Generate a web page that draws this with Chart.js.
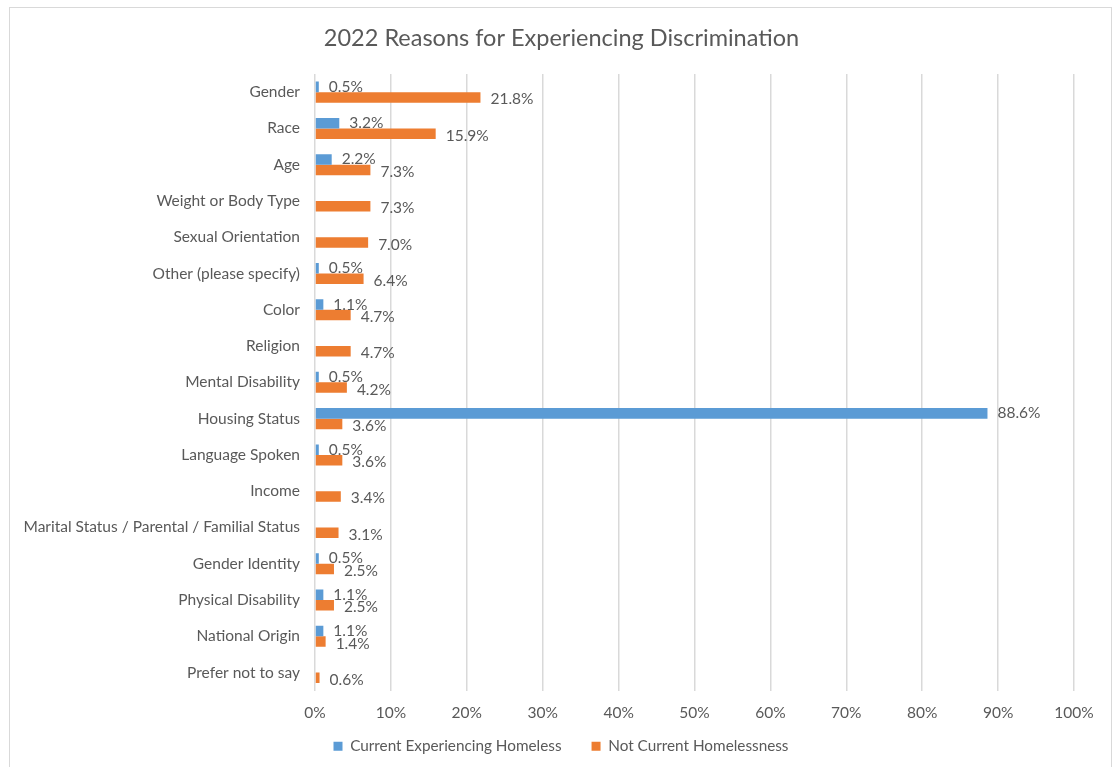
<!DOCTYPE html>
<html>
<head>
<meta charset="utf-8">
<script src="https://cdn.jsdelivr.net/npm/chart.js@4"></script>
<style>
  html, body { margin: 0; padding: 0; background: #fff; }
  #frame { position: absolute; left: 9px; top: 7px; width: 1103px; height: 765px; border: 1px solid #d9d9d9; box-sizing: border-box; }
  #wrap { position: absolute; left: 0; top: 0; width: 1101px; height: 763px; }
</style>
</head>
<body>
<div id="frame"><div id="wrap"><canvas id="c"></canvas></div></div>
<script>
const categories = [
  "Gender", "Race", "Age", "Weight or Body Type", "Sexual Orientation",
  "Other (please specify)", "Color", "Religion", "Mental Disability",
  "Housing Status", "Language Spoken", "Income",
  "Marital Status / Parental / Familial Status", "Gender Identity",
  "Physical Disability", "National Origin", "Prefer not to say"
];
const currentHomeless = [0.5, 3.2, 2.2, null, null, 0.5, 1.1, null, 0.5, 88.6, 0.5, null, null, 0.5, 1.1, 1.1, null];
const notCurrentHomeless = [21.8, 15.9, 7.3, 7.3, 7.0, 6.4, 4.7, 4.7, 4.2, 3.6, 3.6, 3.4, 3.1, 2.5, 2.5, 1.4, 0.6];
const seriesNames = ["Current Experiencing Homeless", "Not Current Homelessness"];
const xTicks = [0, 10, 20, 30, 40, 50, 60, 70, 80, 90, 100];
const chartTitle = "2022 Reasons for Experiencing Discrimination";

const FONT = "Lato, 'Open Sans', sans-serif";
const TXT = "#595959";

const labelPlugin = {
  id: "barLabels",
  afterDatasetsDraw(chart) {
    const ctx = chart.ctx;
    ctx.save();
    ctx.font = "15.5px " + FONT;
    ctx.fillStyle = TXT;
    ctx.textBaseline = "middle";
    ctx.textAlign = "left";
    chart.data.datasets.forEach((ds, di) => {
      const meta = chart.getDatasetMeta(di);
      meta.data.forEach((el, i) => {
        const v = ds.data[i];
        if (v === null || v === undefined) return;
        ctx.fillText(v.toFixed(1) + "%", el.x + 10, el.y + (di === 0 ? 0 : 2));
      });
    });
    ctx.restore();
  }
};

const titlePlugin = {
  id: "centeredTitle",
  afterDraw(chart) {
    const ctx = chart.ctx;
    ctx.save();
    ctx.font = "23.5px " + FONT;
    ctx.fillStyle = TXT;
    ctx.textAlign = "center";
    ctx.textBaseline = "middle";
    ctx.fillText(chartTitle, chart.width / 2 + 1, 30);
    ctx.restore();
  }
};

new Chart(document.getElementById("c"), {
  type: "bar",
  data: {
    labels: categories,
    datasets: [
      { label: seriesNames[0], data: currentHomeless, backgroundColor: "#5B9BD5", categoryPercentage: 0.58, barPercentage: 1.0 },
      { label: seriesNames[1], data: notCurrentHomeless, backgroundColor: "#ED7D31", categoryPercentage: 0.58, barPercentage: 1.0 }
    ]
  },
  options: {
    indexAxis: "y",
    responsive: true,
    maintainAspectRatio: false,
    animation: false,
    layout: { padding: { left: 38, right: 37, top: 66, bottom: 7 } },
    plugins: {
      title: { display: false },
      legend: {
        position: "bottom",
        labels: {
          color: TXT,
          font: { family: FONT, size: 15.3 },
          boxWidth: 9, boxHeight: 9,
          padding: 30
        }
      },
      tooltip: { enabled: false }
    },
    scales: {
      x: {
        min: 0, max: 100,
        afterBuildTicks(axis) { axis.ticks = xTicks.map(v => ({ value: v })); },
        ticks: { color: TXT, font: { family: FONT, size: 15.5 }, padding: 13, callback: v => v + "%" },
        grid: { color: "#d9d9d9", lineWidth: 1.5, drawTicks: false },
        border: { display: false },
        afterFit(axis) {
          axis.height = 18;
          axis._computeLabelArea = function () { return undefined; };
        }
      },
      y: {
        ticks: { color: TXT, font: { family: FONT, size: 15.5 }, padding: 15, autoSkip: false },
        grid: { display: false, drawTicks: false },
        border: { display: false },
        afterFit(axis) {
          axis.width = 267;
          axis._computeLabelArea = function () { return undefined; };
        }
      }
    }
  },
  plugins: [labelPlugin, titlePlugin]
});
</script>
</body>
</html>
